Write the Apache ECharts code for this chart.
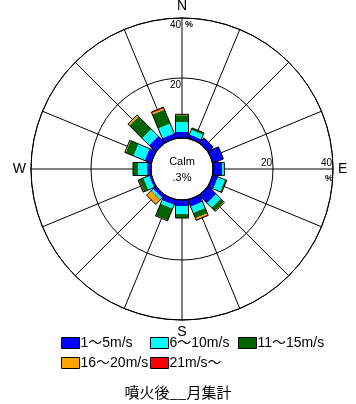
<!DOCTYPE html>
<html><head><meta charset="utf-8">
<script src="https://cdn.jsdelivr.net/npm/echarts@6/dist/echarts.min.js"></script>
<style>html,body{margin:0;padding:0;background:#fff}#c{width:356px;height:404px}</style>
</head><body><div id="c"></div>
<script>
// ---- data ----
const directions = ['N','NNE','NE','ENE','E','ESE','SE','SSE','S','SSW','SW','WSW','W','WNW','NW','NNW'];
const speedClasses = ['1～5m/s','6～10m/s','11～15m/s','16～20m/s','21m/s～'];
const speed1to5   = [2.0, 1.3, 2.2, 3.7, 3.0, 1.8, 3.6, 2.4, 2.0, 1.8, 1.2, 0.7, 1.3, 2.3, 3.0, 1.7];
const speed6to10  = [3.3, 1.6, 0.0, 0.0, 0.8, 2.5, 2.2, 2.2, 2.7, 1.3, 0.8, 2.0, 3.0, 4.0, 3.3, 3.5];
const speed11to15 = [2.3, 0.7, 0.0, 0.0, 0.0, 0.6, 1.5, 1.9, 1.3, 4.2, 0.2, 1.6, 1.7, 2.8, 6.0, 5.0];
const speed16to20 = [0.3, 0.0, 0.0, 0.0, 0.0, 0.0, 0.2, 0.5, 0.0, 0.2, 2.0, 0.0, 0.0, 0.3, 0.7, 0.5];
const speed21up   = [0.0, 0.0, 0.0, 0.0, 0.0, 0.0, 0.0, 0.3, 0.0, 0.0, 0.0, 0.3, 0.0, 0.0, 0.0, 0.4];
const radiusTicks = [20, 40];
const cardinal = {0:'N', 90:'E', 180:'S', 270:'W'};
const calmPercent = '.3';
const titleText = '噴火後__月集計';
const colors = ['#0000FF','#00FFFF','#006400','#FFA500','#FF0000'];

// ---- build ----
const seriesValues = [speed1to5, speed6to10, speed11to15, speed16to20, speed21up];
const step = 360 / directions.length;
const RMAX = 40;
const HALF_W = 6.5;

function rectRender(fillMode) {
  return function (params, api) {
    const a = api.value(0), r0 = api.value(1), r1 = api.value(2);
    if (!(r1 - r0 > 0)) return null;
    const p0 = api.coord([r0, a]), p1 = api.coord([r1, a]);
    const c0 = api.coord([0, a]), c1 = api.coord([RMAX, a]);
    let dx = c1[0] - c0[0], dy = c1[1] - c0[1];
    const L = Math.hypot(dx, dy); dx /= L; dy /= L;
    const nx = -dy * HALF_W, ny = dx * HALF_W;
    const pts = [[p0[0]+nx, p0[1]+ny],[p1[0]+nx, p1[1]+ny],[p1[0]-nx, p1[1]-ny],[p0[0]-nx, p0[1]-ny]];
    return {
      type: 'polygon',
      shape: { points: pts },
      style: fillMode ? { fill: api.visual('color'), stroke: null }
                      : { fill: 'none', stroke: '#000', lineWidth: 1 }
    };
  };
}

const base = directions.map(() => 0);
const series = seriesValues.map((vals, k) => {
  const data = vals.map((v, i) => {
    const d = [i * step, base[i], base[i] + v];
    base[i] += v;
    return d;
  });
  return {
    type: 'custom', name: speedClasses[k], coordinateSystem: 'polar',
    dimensions: ['angle', 'base', 'top'],
    encode: { angle: 0, radius: 2 },
    renderItem: rectRender(true), data: data, z: 3, silent: true
  };
});
series.push({
  type: 'custom', name: 'outline', coordinateSystem: 'polar',
  dimensions: ['angle', 'base', 'top'],
  encode: { angle: 0, radius: 2 },
  renderItem: rectRender(false),
  data: base.map((t, i) => [i * step, 0, t]), z: 4, silent: true
});

const FONT = 'Liberation Sans, Noto Sans CJK JP, sans-serif';
// one legend per class so the item pitch matches the reference
const legendSlots = [[61, 336], [150, 336], [238, 336], [61, 356], [150, 356]];
const legends = speedClasses.map((name, k) => ({
  data: [name], left: legendSlots[k][0], top: legendSlots[k][1], padding: 0,
  itemWidth: 18, itemHeight: 11, icon: 'rect', selectedMode: false,
  itemStyle: { borderColor: '#000', borderWidth: 1 },
  textStyle: { color: '#000', fontFamily: FONT, fontSize: 14, padding: [0, 0, 0, -4] }
}));

const chart = echarts.init(document.getElementById('c'), null, { renderer: 'canvas' });
chart.setOption({
  animation: false,
  color: colors,
  backgroundColor: '#fff',
  title: {
    text: titleText, left: 'center', top: 380,
    textStyle: { fontSize: 15, fontWeight: 'normal', color: '#000', fontFamily: 'Noto Sans CJK JP, sans-serif' }
  },
  legend: legends,
  polar: { center: [182, 169], radius: [31, 151] },
  angleAxis: {
    type: 'value', min: 0, max: 360, interval: step, startAngle: 90, clockwise: true,
    axisLine: { show: true, lineStyle: { color: '#000', width: 1 } },
    axisTick: { show: false },
    splitLine: { show: true, lineStyle: { color: '#000', width: 1 } },
    axisLabel: {
      show: true, margin: 5, color: '#000', fontSize: 14, fontFamily: FONT,
      formatter: v => (v < 360 && cardinal[v]) ? cardinal[v] : ''
    }
  },
  radiusAxis: {
    type: 'value', min: 0, max: RMAX, interval: 20,
    axisLine: { show: false }, axisTick: { show: false }, axisLabel: { show: false },
    splitLine: { show: true, lineStyle: { color: '#000', width: 1 } }
  },
  series: series
});

// radius tick labels and calm text, positioned through the polar scale
const g = [];
const lblStyle = { fontSize: 10, fill: '#000', fontFamily: FONT };
radiusTicks.forEach(t => {
  const pN = chart.convertToPixel({ seriesIndex: 0 }, [t, 0]);
  const pE = chart.convertToPixel({ seriesIndex: 0 }, [t, 90]);
  g.push({ type: 'text', x: pN[0] - 1, y: pN[1] + 2, style: Object.assign({ text: String(t), align: 'right', verticalAlign: 'top' }, lblStyle), z: 10 });
  g.push({ type: 'text', x: pE[0] - 1, y: pE[1] - 1, style: Object.assign({ text: String(t), align: 'right', verticalAlign: 'bottom' }, lblStyle), z: 10 });
});
const topN = chart.convertToPixel({ seriesIndex: 0 }, [RMAX, 0]);
const topE = chart.convertToPixel({ seriesIndex: 0 }, [RMAX, 90]);
g.push({ type: 'text', x: topN[0] + 3, y: topN[1] + 2, style: { text: '%', align: 'left', verticalAlign: 'top', fontWeight: 'bold', fontSize: 9, fill: '#000', fontFamily: FONT }, z: 10 });
g.push({ type: 'text', x: topE[0] - 4, y: topE[1] + 5, style: { text: '%', align: 'center', verticalAlign: 'top', fontWeight: 'bold', fontSize: 9, fill: '#000', fontFamily: FONT }, z: 10 });
const ctr = chart.convertToPixel({ seriesIndex: 0 }, [0, 0]);
const cx = ctr[0], cy = 169;
g.push({ type: 'text', x: cx, y: cy - 7, style: Object.assign({}, lblStyle, { text: 'Calm', align: 'center', verticalAlign: 'middle', fontSize: 11 }), z: 10 });
g.push({ type: 'text', x: cx, y: cy + 9, style: Object.assign({}, lblStyle, { text: calmPercent + '%', align: 'center', verticalAlign: 'middle', fontSize: 11 }), z: 10 });
chart.setOption({ graphic: g });
</script>
</body></html>
